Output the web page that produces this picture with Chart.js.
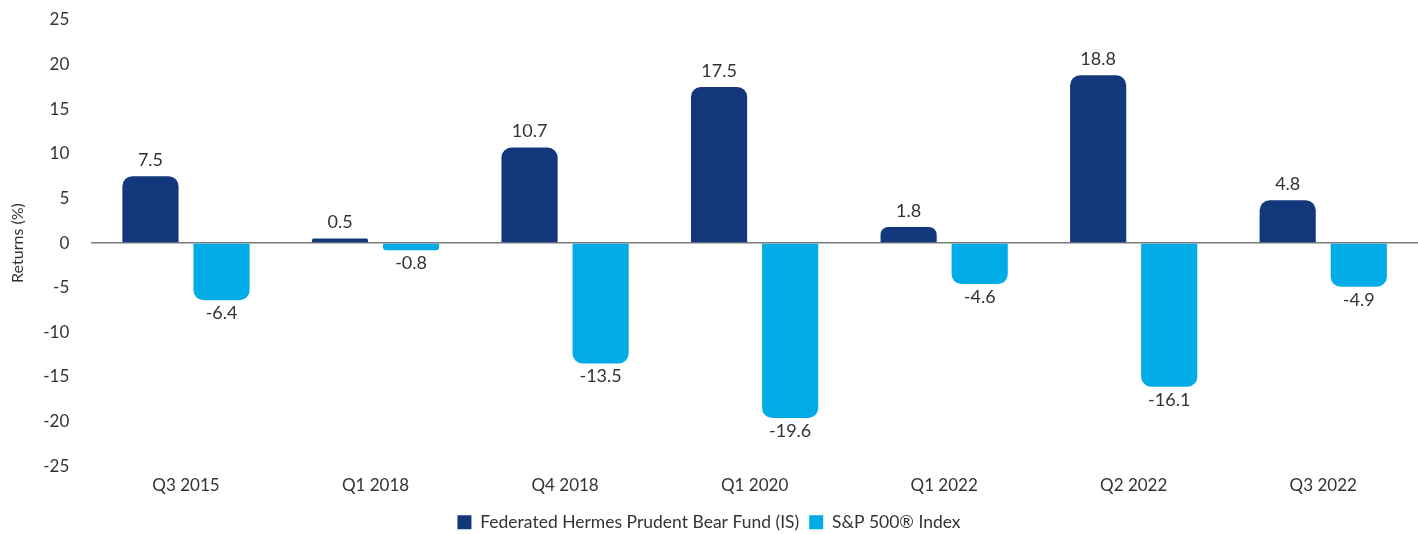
<!DOCTYPE html>
<html>
<head>
<meta charset="utf-8">
<script src="https://cdn.jsdelivr.net/npm/chart.js@4.4.1/dist/chart.umd.min.js"></script>
<style>
  html, body { margin: 0; padding: 0; background: #fff; }
  #wrap { width: 1418px; height: 534px; }
</style>
</head>
<body>
<div id="wrap"><canvas id="returnsChart" width="1418" height="534"></canvas></div>
<script>
const periods = ['Q3 2015', 'Q1 2018', 'Q4 2018', 'Q1 2020', 'Q1 2022', 'Q2 2022', 'Q3 2022'];
const bearFund = [7.5, 0.5, 10.7, 17.5, 1.8, 18.8, 4.8];
const sp500 = [-6.4, -0.8, -13.5, -19.6, -4.6, -16.1, -4.9];
const yTicks = [-25, -20, -15, -10, -5, 0, 5, 10, 15, 20, 25];

const FONT = "Lato, 'Open Sans', sans-serif";
const TEXT = '#333333';

// draw value labels above / below each bar
const valueLabels = {
    id: 'valueLabels',
    afterDatasetsDraw(chart) {
        const ctx = chart.ctx;
        ctx.save();
        ctx.font = '18px ' + FONT;
        ctx.fillStyle = TEXT;
        ctx.textAlign = 'center';
        chart.data.datasets.forEach((ds, i) => {
            chart.getDatasetMeta(i).data.forEach((bar, j) => {
                const v = ds.data[j];
                if (v >= 0) {
                    ctx.textBaseline = 'bottom';
                    ctx.fillText(v.toFixed(1), bar.x, bar.y - 7);
                } else {
                    ctx.textBaseline = 'top';
                    ctx.fillText(v.toFixed(1), bar.x, bar.y + 4);
                }
            });
        });
        ctx.restore();
    }
};

// nudge the legend a little lower
const legendShift = {
    id: 'legendShift',
    afterLayout(chart) {
        chart.legend.top += 7;
        chart.legend.bottom += 7;
    }
};

new Chart('returnsChart', {
    type: 'bar',
    data: {
        labels: periods,
        datasets: [{
            label: 'Federated Hermes Prudent Bear Fund (IS)',
            data: bearFund,
            backgroundColor: '#12377b',
            borderRadius: 10,
            categoryPercentage: 0.75,
            barPercentage: 0.79
        }, {
            label: 'S&P 500® Index',
            data: sp500,
            backgroundColor: '#00abe6',
            borderRadius: 10,
            categoryPercentage: 0.75,
            barPercentage: 0.79
        }]
    },
    options: {
        responsive: false,
        animation: false,
        layout: { autoPadding: false, padding: { top: 20, right: 0, left: 0, bottom: 0 } },
        plugins: {
            legend: {
                position: 'bottom',
                labels: {
                    boxWidth: 14,
                    boxHeight: 14,
                    color: TEXT,
                    padding: 10,
                    font: { size: 17.5, family: FONT }
                }
            },
            tooltip: { enabled: false }
        },
        scales: {
            x: {
                grid: { display: false },
                border: { display: false },
                ticks: { color: TEXT, padding: 1, font: { size: 17, family: FONT } }
            },
            y: {
                min: -25,
                max: 25,
                afterBuildTicks(axis) {
                    axis.ticks = yTicks.map(v => ({ value: v }));
                },
                afterFit(axis) {
                    axis.paddingTop = 0;
                    axis.paddingBottom = 0;
                },
                grid: {
                    drawTicks: false,
                    color: c => c.tick && c.tick.value === 0 ? '#7a7a7a' : 'rgba(0,0,0,0)',
                    lineWidth: 1.5
                },
                border: { display: false },
                ticks: { color: TEXT, padding: 22, font: { size: 17, family: FONT } },
                title: {
                    display: true,
                    text: 'Returns (%)',
                    color: TEXT,
                    padding: { top: 8, bottom: -6 },
                    font: { size: 16, family: FONT }
                }
            }
        }
    },
    plugins: [valueLabels, legendShift]
});
</script>
</body>
</html>
